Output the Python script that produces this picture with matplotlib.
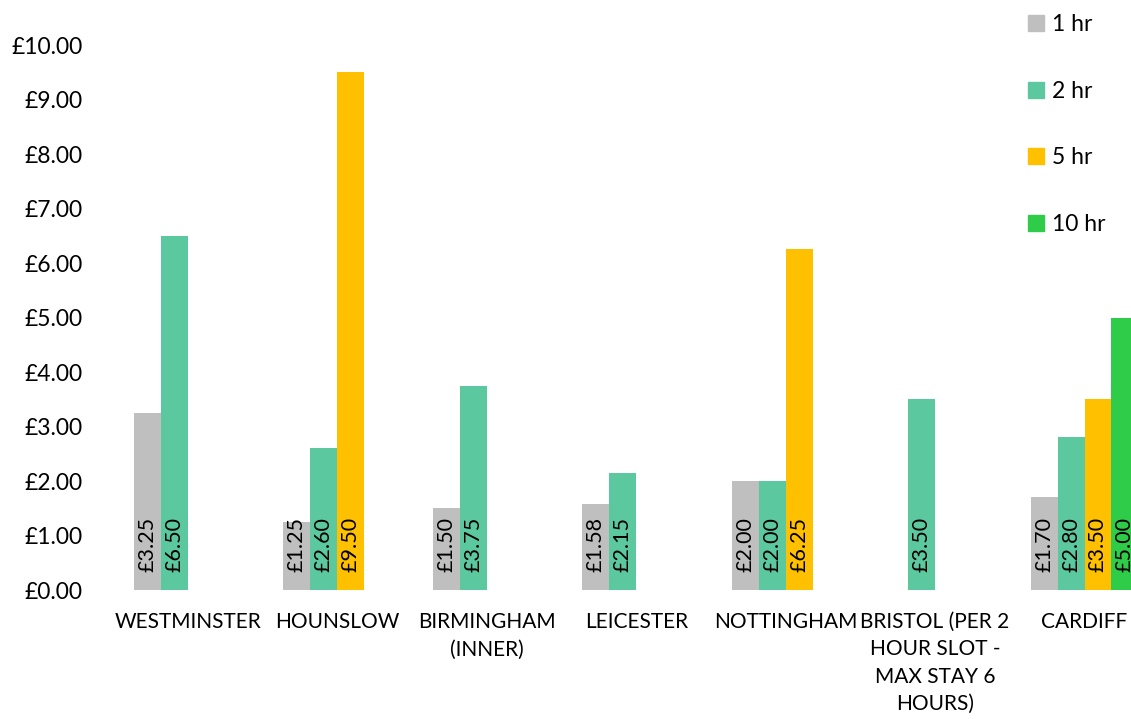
import matplotlib.pyplot as plt
import matplotlib.patches as mpatches
import numpy as np

plt.rcParams['font.family'] = ['Lato', 'DejaVu Sans']

cities = ['WESTMINSTER', 'HOUNSLOW', 'BIRMINGHAM\n(INNER)', 'LEICESTER', 'NOTTINGHAM',
          'BRISTOL (PER 2\nHOUR SLOT -\nMAX STAY 6\nHOURS)', 'CARDIFF']
series_names = ['1 hr', '2 hr', '5 hr', '10 hr']
one_hr = [3.25, 1.25, 1.50, 1.58, 2.00, np.nan, 1.70]
two_hr = [6.50, 2.60, 3.75, 2.15, 2.00, 3.50, 2.80]
five_hr = [np.nan, 9.50, np.nan, np.nan, 6.25, np.nan, 3.50]
ten_hr = [np.nan, np.nan, np.nan, np.nan, np.nan, np.nan, 5.00]
colors = ['#BFBFBF', '#5BC8A0', '#FFC000', '#2ECC48']

fig = plt.figure(figsize=(11.31, 7.19), dpi=100)
ax = fig.add_axes([0.1, 0.1794, 0.925, 0.758])

x = np.arange(len(cities))
w = 0.18
all_series = [one_hr, two_hr, five_hr, ten_hr]
for i, vals in enumerate(all_series):
    pos = x + (i - 1.5) * w
    for xp, v in zip(pos, vals):
        if np.isnan(v):
            continue
        ax.bar(xp, v, width=w, color=colors[i])
        ax.annotate(f'£{v:.2f}', (xp, 0), xytext=(0, 13), textcoords='offset points',
                    rotation=90, ha='center', va='bottom', fontsize=15.5, color='black')

ax.set_xlim(-0.5, 6.5)
ax.set_ylim(0, 10)
ax.set_yticks(np.arange(0, 11, 1))
ax.set_yticklabels([f'£{t:.2f}' for t in range(11)], fontsize=16.5)
ax.set_xticks(x)
ax.set_xticklabels(cities, fontsize=15, linespacing=1.45, va='top')
ax.tick_params(axis='y', length=0, pad=22)
ax.tick_params(axis='x', length=0, pad=16)
for s in ax.spines.values():
    s.set_visible(False)

handles = [mpatches.Patch(color=c, label=n) for c, n in zip(colors, series_names)]
fig.legend(handles=handles, loc='upper left', bbox_to_anchor=(0.897, 1.0), frameon=False,
           fontsize=16.5, handlelength=0.7, handleheight=0.7, handletextpad=0.35,
           labelspacing=2.0, borderaxespad=0.2)

fig.savefig('out.png', dpi=100)
